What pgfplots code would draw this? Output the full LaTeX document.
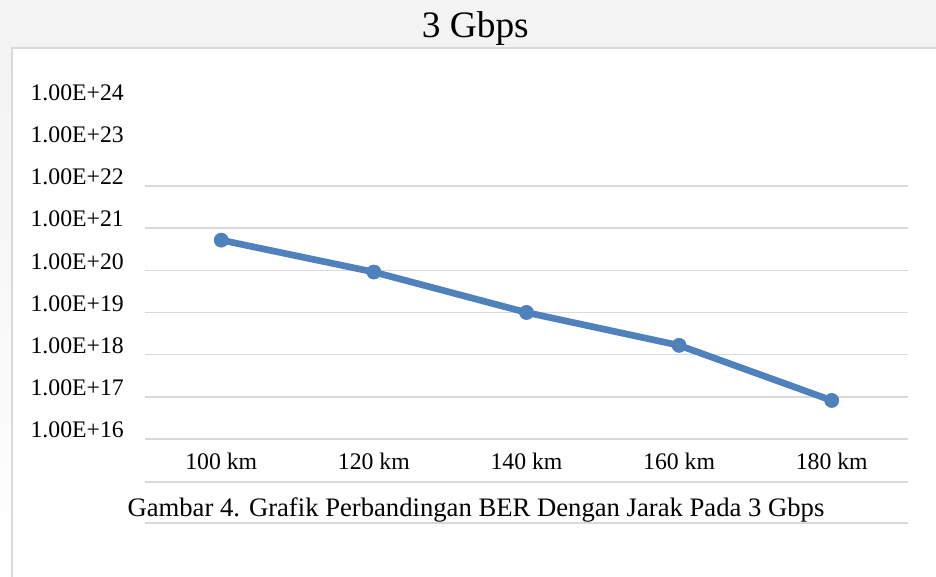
\documentclass[border=0pt]{standalone}
\usepackage{fontspec}
\setmainfont{Liberation Serif}
\usepackage{pgfplots}
\pgfplotsset{compat=1.18}
\definecolor{bgray}{HTML}{F3F3F3}
\definecolor{framec}{HTML}{D9D9D9}
\definecolor{gridc}{HTML}{D9D9D9}
\definecolor{ser}{HTML}{4F81BD}
\begin{document}
\begin{tikzpicture}
\useasboundingbox (0,0) rectangle (702pt,432.75pt);
\fill[white] (0,0) rectangle (702pt,432.75pt);
\fill[bgray] (0,397.5pt) rectangle (702pt,432.75pt);
\shade[top color=bgray,bottom color=white] (0,0) rectangle (8.25pt,397.5pt);
\draw[framec,line width=1.5pt] (9pt,0) -- (9pt,396.75pt) -- (702pt,396.75pt);
\node[font=\fontsize{28}{33}\selectfont, anchor=base, inner sep=0pt] at (356.5pt,404.25pt) {3 Gbps};
\begin{axis}[
  at={(108.75pt,103.5pt)}, anchor=south west,
  scale only axis, width=572.25pt, height=253pt,
  ymode=log, ymin=1e16, ymax=1e24,
  xmin=-0.5, xmax=4.5,
  xtick={0,1,2,3,4},
  xticklabels={100 km,120 km,140 km,160 km,180 km},
  ytick={1e16,1e17,1e18,1e19,1e20,1e21,1e22,1e23,1e24},
  yticklabels={1.00E+16,1.00E+17,1.00E+18,1.00E+19,1.00E+20,1.00E+21,1.00E+22,1.00E+23,1.00E+24},
  extra y ticks={1e16,1e17,1e18,1e19,1e20,1e21,1e22},
  extra y tick labels={},
  extra y tick style={ymajorgrids=true},
  major grid style={gridc, line width=1.1pt},
  axis line style={draw=none},
  tick style={draw=none},
  minor tick style={draw=none},
  major tick length=0pt, minor tick length=0pt,
  ticklabel style={font=\fontsize{17.8}{21}\selectfont, inner sep=0pt},
  yticklabel style={anchor=east, xshift=-15.75pt, yshift=6.75pt},
  xticklabel style={anchor=center, yshift=-16.5pt},
  clip=false,
]
\addplot[ser, line width=5pt, mark=*, mark size=5.3pt, mark options={fill=ser, draw=ser, line width=0.5pt}]
  coordinates {(0,5.2e20) (1,9.1e19) (2,1.0e19) (3,1.66e18) (4,8.2e16)};
\end{axis}
\draw[gridc, line width=1.1pt] (108.75pt,71.25pt) -- (681pt,71.25pt);
\draw[gridc, line width=1.1pt] (108.75pt,40.5pt) -- (681pt,40.5pt);
\node[font=\fontsize{20}{24}\selectfont, anchor=base, inner sep=0pt] at (357pt,45pt) {Gambar 4. Grafik Perbandingan BER Dengan Jarak Pada 3 Gbps};
\end{tikzpicture}
\end{document}
